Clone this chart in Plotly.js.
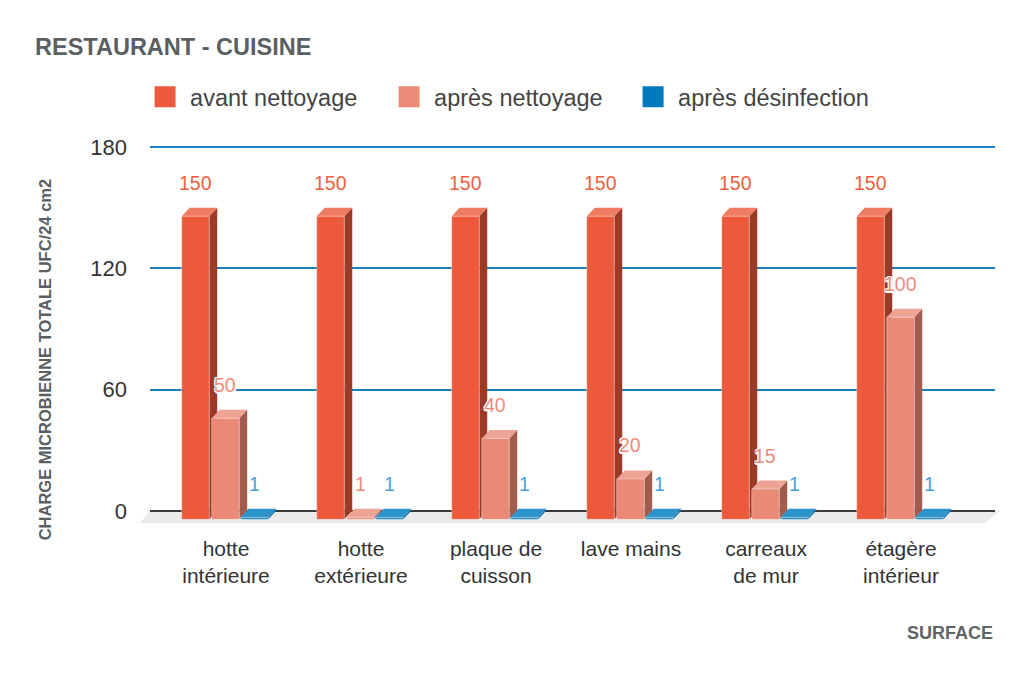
<!DOCTYPE html>
<html>
<head>
<meta charset="utf-8">
<script src="https://cdn.plot.ly/plotly-3.0.1.min.js"></script>
<style>
  html, body { margin: 0; padding: 0; background: #fff; }
  #graphe { width: 1030px; height: 678px; }
</style>
</head>
<body>
<div id="graphe"></div>
<script>
// Données
const surfaces = ['hotte<br>intérieure', 'hotte<br>extérieure', 'plaque de<br>cuisson',
                  'lave mains', 'carreaux<br>de mur', 'étagère<br>intérieur'];
const avantNettoyage = [150, 150, 150, 150, 150, 150];
const apresNettoyage = [50, 1, 40, 20, 15, 100];
const apresDesinfection = [1, 1, 1, 1, 1, 1];
const nomsSeries = ['avant nettoyage', 'après nettoyage', 'après désinfection'];
const ticksY = [0, 60, 120, 180];

// Style des barres "3D"
const couleurs = [
    { face: '#EC5A3B', cote: '#9C3A28', dessus: '#EF7B61', texte: '#EF5E40', legende: '#EC5A3B' },
    { face: '#E98A77', cote: '#A15C4D', dessus: '#EEA495', texte: '#EE8C79', legende: '#EC8A76' },
    { face: '#1F87C3', cote: '#1673A8', dessus: '#2F93CB', texte: '#4E9EDB', legende: '#0079BD' }
];
const largeur = 0.204;
const decalages = [-0.328, -0.106, 0.109];
const profX = 0.059;   // profondeur horizontale (unités de catégorie)
const profY = 4.2;     // profondeur verticale (unités de l'axe y)

const police = 'Arial, "Liberation Sans", sans-serif';
const indices = surfaces.map((s, i) => i);
const series = [avantNettoyage, apresNettoyage, apresDesinfection];

const traces = [];
const formes = [];
const annotations = [];

// Sol gris sous l'axe
formes.push({
    type: 'path', xref: 'paper', yref: 'y', layer: 'between',
    path: 'M -0.012,-6 L 0.988,-6 L 1.006,0 L 0,0 Z',
    fillcolor: '#EBEBEB', line: { width: 0 }
});

series.forEach((valeurs, k) => {
    const c = couleurs[k];
    // face avant
    traces.push({
        type: 'bar',
        x: indices,
        y: valeurs,
        base: valeurs.map(() => -profY),
        offset: decalages[k],
        width: largeur,
        marker: { color: c.face, line: { color: 'rgba(255,255,255,0.35)', width: 1 } },
        name: nomsSeries[k],
        showlegend: false,
        hoverinfo: 'skip'
    });
    // légende
    traces.push({
        type: 'scatter',
        mode: 'markers',
        x: [null],
        y: [null],
        name: nomsSeries[k],
        marker: { symbol: 'square', size: 16, color: c.legende, line: { color: c.legende, width: 5 } },
        hoverinfo: 'skip'
    });

    valeurs.forEach((v, i) => {
        const x0 = i + decalages[k];
        const x1 = x0 + largeur;
        // côté droit
        formes.push({
            type: 'path', xref: 'x', yref: 'y', layer: 'between',
            path: `M ${x1},${-profY} L ${x1 + profX},0 L ${x1 + profX},${v} L ${x1},${v - profY} Z`,
            fillcolor: c.cote, line: { width: 0 }
        });
        // dessus
        formes.push({
            type: 'path', xref: 'x', yref: 'y', layer: 'between',
            path: `M ${x0},${v - profY} L ${x0 + profX},${v} L ${x1 + profX},${v} L ${x1},${v - profY} Z`,
            fillcolor: c.dessus, line: { width: 0 }
        });
        // étiquette de valeur
        annotations.push({
            x: x0 + largeur / 2, y: v, xref: 'x', yref: 'y',
            text: String(v), showarrow: false,
            yanchor: 'middle', yshift: 25,
            font: {
                family: police, size: 19.5, color: c.texte,
                shadow: '-1px -1px 0 #fff, 1px -1px 0 #fff, -1px 1px 0 #fff, 1px 1px 0 #fff, 0 2px 0 #fff, 2px 0 0 #fff'
            }
        });
    });
});

// Titres d'axes
annotations.push({
    xref: 'paper', yref: 'paper', x: -0.124, y: 0.4335,
    text: 'CHARGE MICROBIENNE TOTALE UFC/24 cm2', textangle: -90, showarrow: false,
    xanchor: 'center', yanchor: 'middle',
    font: { family: police, size: 16.5, color: '#5A5F62', weight: 'bold' }
});
annotations.push({
    xref: 'paper', yref: 'paper', x: 1.0, y: -0.29,
    text: 'SURFACE', showarrow: false, xanchor: 'right', yanchor: 'middle',
    font: { family: police, size: 18, color: '#5F6467', weight: 'bold' }
});

const layout = {
    width: 1030,
    height: 678,
    margin: { l: 150, r: 35, t: 145, b: 155 },
    paper_bgcolor: '#fff',
    plot_bgcolor: '#fff',
    barmode: 'overlay',
    font: { family: police, color: '#333' },
    title: {
        text: 'RESTAURANT - CUISINE',
        xref: 'container', yref: 'container',
        x: 0.034, xanchor: 'left', y: 0.931, yanchor: 'middle',
        font: { family: police, size: 23.5, color: '#5A5F62', weight: 'bold' }
    },
    legend: {
        orientation: 'h',
        xref: 'container', yref: 'container',
        x: 0.136, xanchor: 'left', y: 0.857, yanchor: 'middle',
        font: { family: police, size: 23.5, color: '#444' },
        itemwidth: 40,
        entrywidth: 189,
        bgcolor: 'rgba(0,0,0,0)'
    },
    xaxis: {
        range: [-0.563, 5.696],
        tickvals: indices,
        ticktext: surfaces,
        showgrid: false,
        zeroline: false,
        showline: false,
        ticks: '',
        ticklabelstandoff: 11,
        tickfont: { family: police, size: 21, color: '#333' },
        fixedrange: true
    },
    yaxis: {
        range: [-6, 181],
        tickvals: ticksY,
        showgrid: true,
        gridcolor: '#1B7FC0',
        gridwidth: 2,
        zeroline: true,
        zerolinecolor: '#3a3a3a',
        zerolinewidth: 2,
        showline: false,
        ticks: '',
        ticklabelstandoff: 22,
        tickfont: { family: police, size: 22, color: '#333' },
        fixedrange: true
    },
    shapes: formes,
    annotations: annotations,
    hovermode: false
};

Plotly.newPlot('graphe', traces, layout, { displayModeBar: false, staticPlot: true });
</script>
</body>
</html>
